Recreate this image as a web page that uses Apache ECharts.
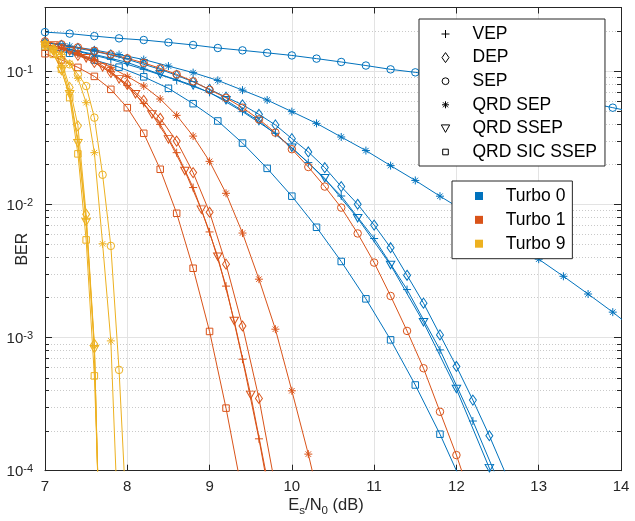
<!DOCTYPE html>
<html><head><meta charset="utf-8">
<script src="https://cdn.jsdelivr.net/npm/echarts@6/dist/echarts.min.js"></script>
<style>html,body{margin:0;padding:0;background:#fff}#c{width:635px;height:521px}</style>
</head><body><div id="c"></div>
<script>
// ---------- tick / axis values ----------
const xTicks = [7, 8, 9, 10, 11, 12, 13, 14];
const yMin = 1e-4, yMax = 0.3;
const yMinorVals = [2e-4,3e-4,4e-4,5e-4,6e-4,7e-4,8e-4,9e-4,
                    2e-3,3e-3,4e-3,5e-3,6e-3,7e-3,8e-3,9e-3,
                    2e-2,3e-2,4e-2,5e-2,6e-2,7e-2,8e-2,9e-2,
                    0.2];

// ---------- Turbo 0 ----------
const t0_SEP_x = [7.0,7.3,7.6,7.9,8.2,8.5,8.8,9.1,9.4,9.7,10.0,10.3,10.6,10.9,11.2,11.5,11.8,12.1,12.4,12.7,13.0,13.3,13.6,13.9,14.2];
const t0_SEP_y = [0.196,0.191,0.183,0.176,0.171,0.164,0.157,0.149,0.143,0.137,0.131,0.124,0.117,0.110,0.103,0.0978,0.0920,0.0862,0.0803,0.0744,0.0687,0.0633,0.0580,0.0531,0.0486];
const t0_QSEP_x = [7.0,7.3,7.6,7.9,8.2,8.5,8.8,9.1,9.4,9.7,10.0,10.3,10.6,10.9,11.2,11.5,11.8,12.1,12.4,12.7,13.0,13.3,13.6,13.9,14.2];
const t0_QSEP_y = [0.164,0.154,0.144,0.133,0.122,0.109,0.0973,0.0851,0.0719,0.0606,0.0496,0.0405,0.0320,0.0253,0.0195,0.0151,0.0115,0.00886,0.00684,0.00519,0.00387,0.00288,0.00212,0.00155,0.0011];
const t0_SIC_x = [7.0,7.3,7.6,7.9,8.2,8.5,8.8,9.1,9.4,9.7,10.0,10.3,10.6,10.9,11.2,11.5,11.8,12.1];
const t0_SIC_y = [0.151,0.136,0.121,0.107,0.0905,0.0742,0.0569,0.0422,0.0288,0.0186,0.0115,0.00672,0.00372,0.00195,0.00096,0.00044,0.000188,0.000073];
const t0_VEP_x = [7.0,7.4,7.8,8.2,8.6,9.0,9.4,9.8,10.2,10.6,11.0,11.4,11.8,12.2,12.6];
const t0_VEP_y = [0.1586,0.1405,0.1224,0.1030,0.0852,0.0692,0.0496,0.0341,0.02055,0.01154,0.00553,0.00229,0.000807,0.000236,0.0000612];
const t0_SSEP_x = [7.2,7.6,8.0,8.4,8.8,9.2,9.6,10.0,10.4,10.8,11.2,11.6,12.0,12.4,12.8];
const t0_SSEP_y = [0.1506,0.1334,0.1162,0.0945,0.0781,0.0603,0.0422,0.0266,0.01567,0.00785,0.0035,0.0013,0.00041,0.0001046,0.0000237];
const t0_DEP_x = [7.0,7.2,7.4,7.6,7.8,8.0,8.2,8.4,8.6,8.8,9.0,9.2,9.4,9.6,9.8,10.0,10.2,10.4,10.6,10.8,11.0,11.2,11.4,11.6,11.8,12.0,12.2,12.4,12.6];
const t0_DEP_y = [0.1642,0.1559,0.1481,0.1405,0.1322,0.1224,0.1123,0.1030,0.0928,0.0830,0.0729,0.0638,0.0558,0.0473,0.0394,0.0311,0.0247,0.01885,0.01358,0.0100,0.00698,0.00472,0.00293,0.00181,0.001046,0.000606,0.000339,0.000183,0.0000943];

// ---------- Turbo 1 ----------
const t1_SEP_x = [7.0,7.2,7.4,7.6,7.8,8.0,8.2,8.4,8.6,8.8,9.0,9.2,9.4,9.6,9.8,10.0,10.2,10.4,10.6,10.8,11.0,11.2,11.4,11.6,11.8,12.0,12.2];
const t1_SEP_y = [0.1670,0.1586,0.1506,0.1417,0.1334,0.1246,0.1152,0.1048,0.0945,0.0837,0.0723,0.0630,0.0531,0.0434,0.0345,0.0259,0.01905,0.01358,0.00944,0.00604,0.00365,0.00205,0.00112,0.000588,0.000277,0.000131,0.0000562];
const t1_QSEP_x = [7.0,7.2,7.4,7.6,7.8,8.0,8.2,8.4,8.6,8.8,9.0,9.2,9.4,9.6,9.8,10.0,10.2,10.4];
const t1_QSEP_y = [0.1586,0.1481,0.1357,0.1224,0.1066,0.0912,0.0772,0.0617,0.0465,0.0325,0.0210,0.01209,0.00608,0.00274,0.001154,0.000398,0.0001332,0.0000398];
const t1_SIC_x = [7.0,7.2,7.4,7.6,7.8,8.0,8.2,8.4,8.6,8.8,9.0,9.2,9.4];
const t1_SIC_y = [0.1350,0.1213,0.1066,0.0912,0.0729,0.0531,0.0341,0.01831,0.00856,0.00331,0.00111,0.000295,0.0000668];
const t1_SSEP_x = [7.1,7.3,7.5,7.7,7.9,8.1,8.3,8.5,8.7,8.9,9.1,9.3,9.5,9.7];
const t1_SSEP_y = [0.1559,0.1405,0.1246,0.1066,0.0866,0.0669,0.0473,0.0307,0.01778,0.00912,0.00404,0.00133,0.000371,0.0000865];
const t1_DEP_x = [7.0,7.2,7.4,7.6,7.8,8.0,8.2,8.4,8.6,8.8,9.0,9.2,9.4,9.6,9.8];
const t1_DEP_y = [0.1586,0.1455,0.1312,0.1162,0.0978,0.0795,0.0603,0.0442,0.0298,0.01729,0.00871,0.00355,0.00122,0.000349,0.0000753];
const t1_VEP_x = [7.0,7.2,7.4,7.6,7.8,8.0,8.2,8.4,8.6,8.8,9.0,9.2,9.4,9.6,9.8];
const t1_VEP_y = [0.1586,0.1481,0.1346,0.1203,0.0995,0.0781,0.0572,0.0398,0.0244,0.01335,0.0062,0.00243,0.000687,0.0001735,0.0000365];

// ---------- Turbo 9 ----------
const t9_SEP_x = [7.0,7.1,7.2,7.3,7.4,7.5,7.6,7.7,7.8,7.9,8.0];
const t9_SEP_y = [0.1586,0.1455,0.1312,0.1123,0.0945,0.0772,0.0447,0.01665,0.00487,0.000571,0.0000335];
const t9_QSEP_x = [7.0,7.1,7.2,7.3,7.4,7.5,7.6,7.7,7.8,7.9];
const t9_QSEP_y = [0.1586,0.1481,0.1334,0.1142,0.0882,0.0579,0.0244,0.00505,0.000943,0.0000241];
const t9_VEP_x = [7.0,7.1,7.2,7.3,7.4,7.5,7.6,7.7];
const t9_VEP_y = [0.1586,0.1455,0.1103,0.0692,0.0307,0.00772,0.00086,0.00000354];
const t9_DEP_x = [7.0,7.1,7.2,7.3,7.4,7.5,7.6,7.7];
const t9_DEP_y = [0.1586,0.1455,0.1183,0.0754,0.0388,0.00841,0.00089,0.00000354];
const t9_SSEP_x = [7.0,7.1,7.2,7.3,7.4,7.5,7.6,7.7];
const t9_SSEP_y = [0.1559,0.1405,0.1000,0.0669,0.0287,0.00737,0.000817,0.00000354];
const t9_SIC_x = [7.0,7.1,7.2,7.3,7.4,7.5,7.6,7.7];
const t9_SIC_y = [0.1532,0.1334,0.1030,0.0632,0.0239,0.0054,0.000515,0.000009];

// ---------- legends ----------
const methodNames = ['VEP','DEP','SEP','QRD SEP','QRD SSEP','QRD SIC SSEP'];
const turboNames = ['Turbo 0','Turbo 1','Turbo 9'];

// ---------- styling ----------
const FONT = 'Liberation Sans, Arial, Helvetica, sans-serif';
const AX = '#262626';
const COL = {'Turbo 0':'#0072BD','Turbo 1':'#D95319','Turbo 9':'#EDB120'};
const PLUS = 'path://M5,0L5,10M0,5L10,5';
const STAR = 'path://M5,0L5,10M0,5L10,5M1.6,1.6L8.4,8.4M8.4,1.6L1.6,8.4';
const SYM = {
  'VEP':          {symbol: PLUS, size: 8, rotate: 0},
  'DEP':          {symbol: 'diamond', size: [7, 10], rotate: 0},
  'SEP':          {symbol: 'circle', size: 7.5, rotate: 0},
  'QRD SEP':      {symbol: STAR, size: 8, rotate: 0},
  'QRD SSEP':     {symbol: 'triangle', size: [8.5, 7.5], rotate: 180},
  'QRD SIC SSEP': {symbol: 'rect', size: 6.5, rotate: 0}
};
const LEG_ICON = {
  'VEP': 'path://M0,0M1,5L9,5M5,1L5,9M10,10',
  'DEP': 'path://M0,0M5,0L8.5,5L5,10L1.5,5ZM10,10',
  'SEP': 'path://M0,0M1.6,5A3.4,3.4,0,1,0,8.4,5A3.4,3.4,0,1,0,1.6,5ZM10,10',
  'QRD SEP': 'path://M0,0M5,1.5L5,8.5M1.5,5L8.5,5M2.5,2.5L7.5,7.5M7.5,2.5L2.5,7.5M10,10',
  'QRD SSEP': 'path://M0,0M0.8,1.5L9.2,1.5L5,9ZM10,10',
  'QRD SIC SSEP': 'path://M0,0M2.2,2.2L7.8,2.2L7.8,7.8L2.2,7.8ZM10,10'
};

function mk(name, turbo, method, xs, ys) {
  const c = COL[turbo], s = SYM[method];
  return {
    type: 'line', name: name,
    data: xs.map((x, i) => [x, ys[i]]),
    symbol: s.symbol, symbolSize: s.size, symbolRotate: s.rotate,
    showSymbol: true, clip: true, silent: true, animation: false,
    lineStyle: {color: c, width: 1},
    itemStyle: {color: 'rgba(0,0,0,0)', borderColor: c, borderWidth: 1},
    emphasis: {disabled: true},
    z: 3
  };
}

const series = [
  mk('T0 VEP','Turbo 0','VEP',t0_VEP_x,t0_VEP_y),
  mk('T0 DEP','Turbo 0','DEP',t0_DEP_x,t0_DEP_y),
  mk('T0 SEP','Turbo 0','SEP',t0_SEP_x,t0_SEP_y),
  mk('T0 QRD SEP','Turbo 0','QRD SEP',t0_QSEP_x,t0_QSEP_y),
  mk('T0 QRD SSEP','Turbo 0','QRD SSEP',t0_SSEP_x,t0_SSEP_y),
  mk('T0 QRD SIC SSEP','Turbo 0','QRD SIC SSEP',t0_SIC_x,t0_SIC_y),
  mk('T1 VEP','Turbo 1','VEP',t1_VEP_x,t1_VEP_y),
  mk('T1 DEP','Turbo 1','DEP',t1_DEP_x,t1_DEP_y),
  mk('T1 SEP','Turbo 1','SEP',t1_SEP_x,t1_SEP_y),
  mk('T1 QRD SEP','Turbo 1','QRD SEP',t1_QSEP_x,t1_QSEP_y),
  mk('T1 QRD SSEP','Turbo 1','QRD SSEP',t1_SSEP_x,t1_SSEP_y),
  mk('T1 QRD SIC SSEP','Turbo 1','QRD SIC SSEP',t1_SIC_x,t1_SIC_y),
  mk('T9 VEP','Turbo 9','VEP',t9_VEP_x,t9_VEP_y),
  mk('T9 DEP','Turbo 9','DEP',t9_DEP_x,t9_DEP_y),
  mk('T9 SEP','Turbo 9','SEP',t9_SEP_x,t9_SEP_y),
  mk('T9 QRD SEP','Turbo 9','QRD SEP',t9_QSEP_x,t9_QSEP_y),
  mk('T9 QRD SSEP','Turbo 9','QRD SSEP',t9_SSEP_x,t9_SSEP_y),
  mk('T9 QRD SIC SSEP','Turbo 9','QRD SIC SSEP',t9_SIC_x,t9_SIC_y)
];

// dummy series that feed the two legends
methodNames.forEach(n => series.push({type:'line', name:n, data:[], itemStyle:{color:'#000'}}));
turboNames.forEach(n => series.push({type:'line', name:n, data:[], itemStyle:{color:COL[n]}}));

// minor log grid lines + minor ticks
series.push({
  type: 'custom', silent: true, animation: false, z: 1,
  data: yMinorVals.map(v => [7, v]),
  encode: {x: 0, y: 1},
  renderItem: function (params, api) {
    const cs = params.coordSys;
    const y = Math.round(api.coord([7, api.value(1)])[1]) + 0.5;
    return {type: 'group', children: [
      {type:'line', shape:{x1:cs.x, y1:y, x2:cs.x+cs.width, y2:y},
       style:{stroke:'#c9c9c9', lineWidth:1, lineDash:[1,2]}},
      {type:'line', shape:{x1:cs.x, y1:y, x2:cs.x+4, y2:y}, style:{stroke:AX, lineWidth:1}},
      {type:'line', shape:{x1:cs.x+cs.width-4, y1:y, x2:cs.x+cs.width, y2:y}, style:{stroke:AX, lineWidth:1}}
    ]};
  }
});

function expLabel(v) {
  const l = Math.log10(v), e = Math.round(l);
  if (Math.abs(l - e) > 1e-6) return '';
  return '{b|10}{e|' + e + '}';
}

const option = {
  animation: false,
  backgroundColor: '#fff',
  textStyle: {fontFamily: FONT},
  grid: {left: 45, right: 14, top: 7.5, bottom: 50.3, containLabel: false, outerBoundsMode: 'none'},
  xAxis: [{
    type: 'value', min: 7, max: 14, interval: 1, position: 'bottom',
    axisLine: {show: true, onZero: false, lineStyle: {color: AX, width: 1}},
    axisTick: {show: true, inside: true, length: 6, lineStyle: {color: AX}},
    axisLabel: {fontSize: 15, color: AX, margin: 9, fontFamily: FONT},
    splitLine: {show: true, lineStyle: {color: '#e3e3e3', width: 1}},
    name: '{n|E}{s|s}{n|/N}{s|0}{n| (dB)}', nameLocation: 'middle', nameGap: 26,
    nameMoveOverlap: false,
    nameTextStyle: {padding: [0, 14, 0, 0], rich: {
      n: {fontSize: 16.5, color: AX, fontFamily: FONT, lineHeight: 20, verticalAlign: 'top'},
      s: {fontSize: 11.5, color: AX, fontFamily: FONT, lineHeight: 10, verticalAlign: 'bottom'}
    }}
  }, {
    type: 'value', min: 7, max: 14, interval: 1, position: 'top',
    axisLine: {show: true, onZero: false, lineStyle: {color: AX, width: 1}},
    axisTick: {show: true, inside: true, length: 6, lineStyle: {color: AX}},
    axisLabel: {show: false}, splitLine: {show: false}
  }],
  yAxis: [{
    type: 'log', logBase: 10, min: yMin, max: yMax, position: 'left',
    axisLine: {show: true, onZero: false, lineStyle: {color: AX, width: 1}},
    axisTick: {show: true, inside: true, length: 7, lineStyle: {color: AX}},
    axisLabel: {formatter: expLabel, margin: 12, color: AX, rich: {
      b: {fontSize: 15, color: AX, fontFamily: FONT, lineHeight: 18, verticalAlign: 'bottom', padding: [4,0,0,0]},
      e: {fontSize: 11, color: AX, fontFamily: FONT, lineHeight: 10, verticalAlign: 'top', padding: [2,0,0,0]}
    }},
    splitLine: {show: true, lineStyle: {color: '#e3e3e3', width: 1}},
    name: 'BER', nameLocation: 'middle', nameGap: 14, nameRotate: 90,
    nameMoveOverlap: false,
    nameTextStyle: {fontSize: 16, color: AX, fontFamily: FONT, padding: [0, 20, 0, 0]}
  }, {
    type: 'log', logBase: 10, min: yMin, max: yMax, position: 'right',
    axisLine: {show: true, onZero: false, lineStyle: {color: AX, width: 1}},
    axisTick: {show: true, inside: true, length: 7, lineStyle: {color: AX}},
    axisLabel: {show: false}, splitLine: {show: false}
  }],
  legend: [{
    data: methodNames.map(n => ({name: n, icon: LEG_ICON[n],
      itemStyle: {color: 'rgba(0,0,0,0)', borderColor: '#000', borderWidth: 1}})),
    orient: 'vertical', left: 419, top: 19, selectedMode: false,
    itemWidth: 10, itemHeight: 10, itemGap: 3.6,
    padding: [5, 8, 4, 21],
    backgroundColor: '#fff', borderColor: AX, borderWidth: 1,
    textStyle: {fontSize: 17.5, color: '#000', fontFamily: FONT, lineHeight: 20, padding: [0,0,0,17]},
    z: 10
  }, {
    data: turboNames.map(n => ({name: n, icon: 'rect', itemStyle: {color: COL[n], borderWidth: 0}})),
    orient: 'vertical', left: 452, top: 181, selectedMode: false,
    itemWidth: 8, itemHeight: 8, itemGap: 3.85,
    padding: [5, 7, 5, 23],
    backgroundColor: '#fff', borderColor: AX, borderWidth: 1,
    textStyle: {fontSize: 17.5, color: '#000', fontFamily: FONT, lineHeight: 20, padding: [0,0,0,17.7]},
    z: 10
  }],
  series: series
};

const chart = echarts.init(document.getElementById('c'), null, {renderer: 'canvas'});
chart.setOption(option);
</script></body></html>
